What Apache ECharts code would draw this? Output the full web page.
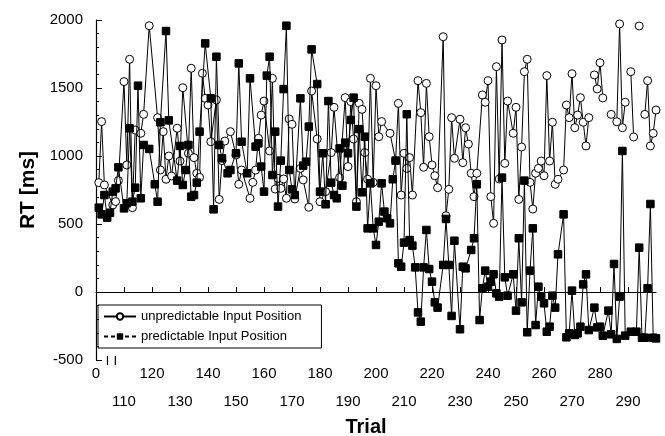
<!DOCTYPE html>
<html>
<head>
<meta charset="utf-8">
<script src="https://cdn.jsdelivr.net/npm/echarts@6/dist/echarts.min.js"></script>
<style>
  html, body { margin: 0; padding: 0; background: #fff; }
  #main { width: 665px; height: 436px; }
</style>
</head>
<body>
<div id="main"></div>
<script>
// trial numbers and reaction times (null = gap in the line)
const unpredTrials = [101,102,103,106,107,108,110,111,112,113,114,116,117,119,122,123,124,125,126,127,
  129,130,131,133,134,135,136,137,138,139,140,141,143,144,145,146,148,150,151,152,
  155,156,157,158,159,160,162,163,164,165,166,167,168,169,170,171,173,174,176,177,
  179,180,182,184,185,187,189,190,191,192,193,194,195,196,197,198,199,200,201,202,
  205,207,208,209,210,211,212,213,215,216,217,218,219,220,221,222,224,225,226,227,
  228,230,231,232,233,234,235,236,238,239,240,241,242,243,244,245,246,247,249,250,
  251,252,253,254,255,256,257,258,259,260,261,262,263,264,265,267,268,269,270,271,
  272,273,274,275,276,277,278,279,280,281,282,284,286,287,288,289,290,291,292,293,
  294,295,296,297,298,299,300];
const unpredRT = [804,1253,787,640,665,819,1547,934,1711,620,1191,1167,1306,1958,1282,897,1179,829,1000,853,
  1204,963,1502,1020,1645,988,873,843,1608,1424,1375,1105,1412,681,966,1110,1179,1008,792,897,
  689,806,897,1130,1301,1404,1037,1571,757,836,762,831,689,1272,1233,684,909,824,623,1478,
  1125,664,738,1025,1358,841,1429,922,1400,1125,664,1387,1343,1025,829,1571,806,1517,1142,1253,
  1167,966,1387,713,1020,909,988,713,1554,1319,917,1534,1142,934,855,767,1877,561,755,1282,
  983,1270,951,1208,1088,873,701,873,1449,1395,1554,701,505,1657,831,1853,946,1404,1167,1358,
  681,1066,1620,1711,806,610,873,909,963,855,1591,963,1248,792,829,897,1375,1282,1605,1208,
  1301,1429,1248,1074,1282,null,1596,1493,1686,1427,null,1306,1252,1971,1208,1395,null,1620,1140,null,
  1956,null,1306,1554,1074,1167,1338];

const predTrials = [101,102,103,104,105,106,107,108,110,111,112,113,114,115,116,117,119,121,122,123,
  125,126,129,130,131,132,133,134,135,136,137,139,141,142,143,144,145,147,148,150,
  151,152,154,155,157,158,159,160,161,162,163,164,165,166,167,168,169,170,171,173,
  174,175,176,177,179,180,181,182,183,184,185,186,187,188,189,190,191,192,193,194,
  195,196,197,198,199,200,201,202,203,204,205,206,207,208,209,210,211,212,213,214,
  215,216,217,218,219,220,221,222,224,225,226,227,228,230,231,232,234,235,236,237,
  238,239,240,241,242,243,244,245,246,247,249,250,251,252,253,254,255,256,257,258,
  259,260,261,262,263,264,265,267,268,269,270,271,272,273,274,275,276,278,279,280,
  281,283,284,285,286,287,288,289,291,293,294,295,296,297,298,299,300];
const predRT = [620,571,713,547,583,738,762,917,615,652,1204,664,767,1517,689,1081,1052,792,664,1248,
  1919,1262,819,1074,787,897,1081,701,713,804,1179,1828,1424,608,1730,1081,983,873,897,1020,
  1681,1105,873,1571,1069,1093,922,738,1591,1730,860,1179,628,966,1492,1958,897,755,713,1424,
  929,958,1216,1784,1529,738,1020,645,1404,804,713,689,1056,782,1098,1020,1265,1429,628,1198,
  733,1142,468,799,468,346,517,799,591,542,505,829,966,211,186,363,1307,382,341,181,
  -150,-218,181,456,169,76,-76,-115,199,537,199,-176,377,-274,186,174,309,395,792,-206,
  27,157,39,76,130,-10,-34,841,108,-27,130,-137,395,-76,819,-296,157,468,-243,39,
  -34,-83,-292,-255,-27,-115,277,571,-333,-304,10,-316,-304,-255,56,130,-280,-115,-260,-255,
  -321,-137,-311,206,-345,-34,1037,-321,-292,-292,326,-336,-336,27,647,-336,-341];

const seriesNames = ['unpredictable Input Position', 'predictable Input Position'];
const xMin = 100, xMax = 300, xStep = 10;
const yMin = -500, yMax = 2000, yStep = 500;
const breakTrials = [104.1, 106.9];

const font = 'Liberation Sans, Arial, Helvetica, sans-serif';
const chart = echarts.init(document.getElementById('main'));

function pairs(xs, ys) {
  return xs.map((x, i) => [x, ys[i]]);
}

chart.setOption({
  animation: false,
  textStyle: { fontFamily: font, color: '#000' },
  grid: { left: 96, right: 9, top: 20, bottom: 76, containLabel: false, outerBoundsMode: 'none' },
  legend: {
    orient: 'vertical',
    left: 98,
    top: 305,
    padding: [4, 20, 4, 5],
    itemGap: 5,
    itemWidth: 32,
    itemHeight: 8,
    itemTextGap: 5,
    borderColor: '#000',
    borderWidth: 1,
    textStyle: { fontFamily: font, fontSize: 13, color: '#000', lineHeight: 15 },
    data: [
      { name: seriesNames[0] },
      { name: seriesNames[1], lineStyle: { type: [4, 3] } }
    ]
  },
  xAxis: {
    type: 'value',
    min: xMin,
    max: xMax,
    interval: xStep,
    name: 'Trial',
    nameLocation: 'middle',
    nameGap: 57,
    nameTextStyle: { fontFamily: font, fontSize: 20, fontWeight: 'bold', color: '#000', padding: [0, 20, 0, 0] },
    axisLine: { lineStyle: { color: '#000', width: 1.2 } },
    axisTick: { inside: true, length: 5, lineStyle: { color: '#000' } },
    axisLabel: {
      fontFamily: font, fontSize: 15, color: '#000', margin: 7, lineHeight: 14,
      showMaxLabel: false,
      formatter: v => {
        if (v === xMin) return '0';
        return ((v / xStep) % 2 === 1 ? '\n\n' : '') + v;
      }
    },
    splitLine: { show: false }
  },
  yAxis: {
    type: 'value',
    min: yMin,
    max: yMax,
    interval: yStep,
    name: 'RT [ms]',
    nameLocation: 'middle',
    nameGap: 54,
    nameTextStyle: { fontFamily: font, fontSize: 21, fontWeight: 'bold', color: '#000' },
    axisLine: { show: true, lineStyle: { color: '#000', width: 1.2 } },
    axisTick: { show: true, inside: true, length: 6, lineStyle: { color: '#000' } },
    minorTick: { show: true, splitNumber: 5, length: 3, lineStyle: { color: '#000' } },
    axisLabel: { fontFamily: font, fontSize: 15, color: '#000', margin: 13, formatter: v => String(v) },
    splitLine: { show: false }
  },
  series: [
    {
      name: seriesNames[0],
      type: 'line',
      data: pairs(unpredTrials, unpredRT),
      symbol: 'circle',
      symbolSize: 8,
      connectNulls: false,
      lineStyle: { color: '#000', width: 1 },
      itemStyle: { color: '#fff', borderColor: '#000', borderWidth: 1 },
      z: 2
    },
    {
      name: seriesNames[1],
      type: 'line',
      data: pairs(predTrials, predRT),
      symbol: 'rect',
      symbolSize: 7.5,
      lineStyle: { color: '#000', width: 1 },
      itemStyle: { color: '#000', borderColor: '#000' },
      z: 3
    }
  ]
});

// axis break marks on the trial axis
const pa = chart.convertToPixel({ gridIndex: 0 }, [breakTrials[0], yMin]);
const pb = chart.convertToPixel({ gridIndex: 0 }, [breakTrials[1], yMin]);
chart.setOption({
  graphic: [
    { type: 'rect', shape: { x: pa[0] + 1, y: pa[1] - 6, width: pb[0] - pa[0] - 2, height: 10 }, style: { fill: '#fff' }, z: 100 },
    { type: 'line', shape: { x1: pa[0], y1: pa[1] - 4, x2: pa[0], y2: pa[1] + 5 }, style: { stroke: '#000', lineWidth: 1.2 }, z: 101 },
    { type: 'line', shape: { x1: pb[0], y1: pb[1] - 4, x2: pb[0], y2: pb[1] + 5 }, style: { stroke: '#000', lineWidth: 1.2 }, z: 101 }
  ]
});
</script>
</body>
</html>
